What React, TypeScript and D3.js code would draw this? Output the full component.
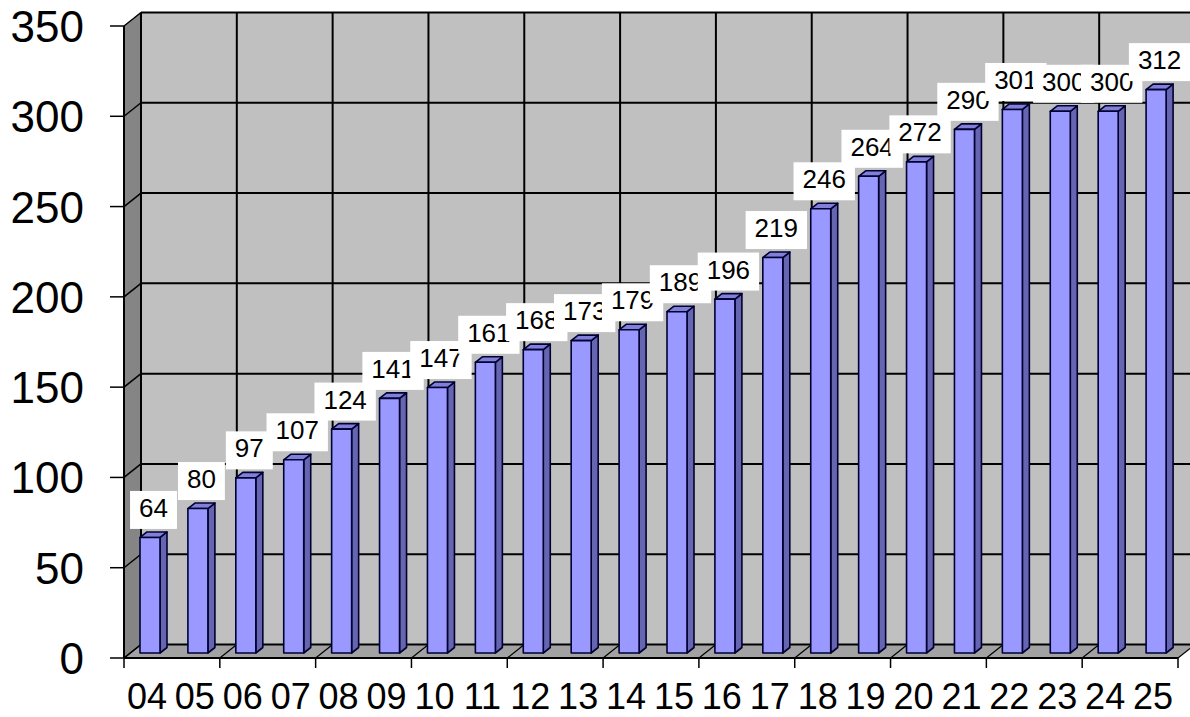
import React from "react";
import * as d3 from "d3";

const categories = ["04","05","06","07","08","09","10","11","12","13","14","15","16","17","18","19","20","21","22","23","24","25"];
const values = [64,80,97,107,124,141,147,161,168,173,179,189,196,219,246,264,272,290,301,300,300,312];
const yTicks = [0,50,100,150,200,250,300,350];

const W = 1190, H = 717;
const DX = 17, DY = -13.5;
const FONT = "'Liberation Sans', Arial, sans-serif";

export default function App() {
  const x = d3.scaleBand<string>().domain(categories).range([124, 1178]).padding(0);
  const y = d3.scaleLinear().domain([0, 350]).range([658, 26]);
  const bw = x.bandwidth();
  const y0 = y(0);
  const yTop = y(350);
  const xL = 124, xR = 1178;

  const pts = (a: number[][]) => a.map(p => p.join(",")).join(" ");

  const evenEdges: number[] = [];
  for (let k = 0; k <= categories.length; k += 2) evenEdges.push(xL + k * bw);

  const barW = 20, barOff = 16, barLift = 5, sdx = 7, sdy = -5.5;
  const fs = 26, padX = 9, boxH = 38;
  const charW = fs * 0.556;

  return (
    <svg width={W} height={H} style={{ position: "absolute", left: 0, top: 0, background: "#fff" }}>
      {/* back wall */}
      <rect x={xL + DX} y={yTop + DY} width={xR - xL} height={y0 - yTop} fill="#c0c0c0" />
      {/* left wall */}
      <polygon points={pts([[xL, yTop], [xL + DX, yTop + DY], [xL + DX, y0 + DY], [xL, y0]])} fill="#858585" />
      {/* floor */}
      <polygon points={pts([[xL, y0], [xL + DX, y0 + DY], [xR + DX, y0 + DY], [xR, y0]])} fill="#a2a2a2" />
      {/* horizontal gridlines on back wall and left wall */}
      {yTicks.map(t => (
        <g key={"g" + t}>
          <line x1={xL + DX} x2={xR + DX} y1={y(t) + DY} y2={y(t) + DY} stroke="#000" strokeWidth={2} />
          <line x1={xL} x2={xL + DX} y1={y(t)} y2={y(t) + DY} stroke="#000" strokeWidth={1.5} />
        </g>
      ))}
      {/* vertical gridlines on back wall and floor */}
      {evenEdges.map((ex, i) => (
        <g key={"v" + i}>
          <line x1={ex + DX} x2={ex + DX} y1={yTop + DY} y2={y0 + DY} stroke="#000" strokeWidth={2} />
          <line x1={ex} x2={ex + DX} y1={y0} y2={y0 + DY} stroke="#000" strokeWidth={1.2} />
        </g>
      ))}
      {/* axes */}
      <line x1={xL} x2={xL} y1={yTop} y2={y0} stroke="#000" strokeWidth={2} />
      <line x1={xL} x2={xR} y1={y0} y2={y0} stroke="#000" strokeWidth={2} />
      {yTicks.map(t => (
        <g key={"yt" + t}>
          <line x1={110} x2={xL} y1={y(t)} y2={y(t)} stroke="#000" strokeWidth={1.5} />
          <text x={84} y={y(t) + 16} textAnchor="end" fontFamily={FONT} fontSize={44} fill="#000">{t}</text>
        </g>
      ))}
      {evenEdges.map((ex, i) => (
        <line key={"xt" + i} x1={ex} x2={ex} y1={y0} y2={y0 + 10} stroke="#000" strokeWidth={1.5} />
      ))}
      {categories.map(c => (
        <text key={"xl" + c} x={(x(c) as number) + bw / 2 - 1} y={709} textAnchor="middle" fontFamily={FONT} fontSize={36} fill="#000">{c}</text>
      ))}
      {/* bars */}
      {categories.map((c, i) => {
        const bx = (x(c) as number) + barOff;
        const yb = y0 - barLift;
        const yt = y(values[i]) - barLift;
        return (
          <g key={"b" + c} stroke="#000033" strokeWidth={1.6} strokeLinejoin="round">
            <polygon points={pts([[bx + barW, yb], [bx + barW + sdx, yb + sdy], [bx + barW + sdx, yt + sdy], [bx + barW, yt]])} fill="#6666b0" />
            <polygon points={pts([[bx, yt], [bx + barW, yt], [bx + barW + sdx, yt + sdy], [bx + sdx, yt + sdy]])} fill="#8080d8" />
            <rect x={bx} y={yt} width={barW} height={yb - yt} fill="#9999ff" />
          </g>
        );
      })}
      {/* data labels */}
      {categories.map((c, i) => {
        const cx = (x(c) as number) + barOff + (barW + sdx) / 2;
        const label = String(values[i]);
        const bwid = label.length * charW + 2 * padX;
        const bottom = y(values[i]) - barLift - 8.5;
        return (
          <g key={"l" + c}>
            <rect x={cx - bwid / 2} y={bottom - boxH} width={bwid} height={boxH} fill="#fff" />
            <text x={cx} y={bottom - 12} textAnchor="middle" fontFamily={FONT} fontSize={fs} fill="#000">{label}</text>
          </g>
        );
      })}
    </svg>
  );
}
